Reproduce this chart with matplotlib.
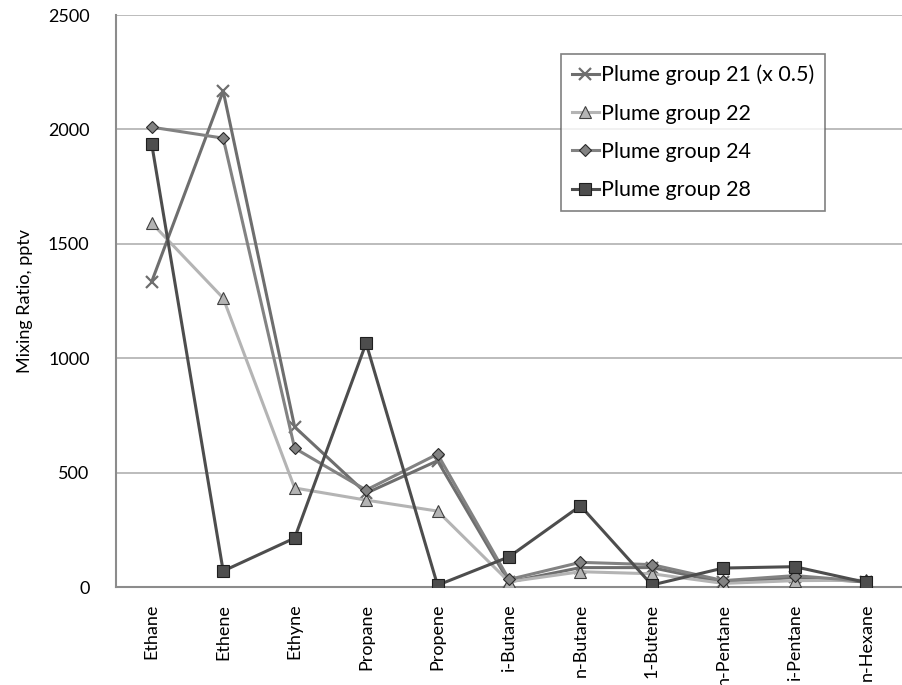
import matplotlib
matplotlib.use('Agg')
import matplotlib.pyplot as plt
import numpy as np

compounds = ['Ethane', 'Ethene', 'Ethyne', 'Propane', 'Propene', 'i-Butane',
             'n-Butane', '1-Butene', 'n-Pentane', 'i-Pentane', 'n-Hexane']

# mixing ratios (pptv); group 21 already scaled by 0.5
group21 = [1335, 2168, 700, 410, 552, 22, 85, 85, 20, 42, 22]
group22 = [1591, 1263, 433, 380, 332, 23, 67, 58, 16, 28, 30]
group24 = [2010, 1962, 607, 424, 581, 33, 108, 98, 28, 50, 25]
group28 = [1936, 70, 214, 1066, 8, 132, 355, 9, 83, 89, 20]

yticks = [0, 500, 1000, 1500, 2000, 2500]

plt.rcParams['font.family'] = ['Lato', 'DejaVu Sans']

fig = plt.figure(figsize=(9.02, 6.85), dpi=100)
ax = fig.add_axes([0.1286, 0.143, 0.8714, 0.835])

x = np.arange(len(compounds))

ax.plot(x, group21, color='#6e6e6e', lw=2.2, marker='x', ms=8, mew=1.6,
        mec='#6e6e6e', label='Plume group 21 (x 0.5)', zorder=3)
ax.plot(x, group22, color='#b4b4b4', lw=2.2, marker='^', ms=8,
        mfc='#b4b4b4', mec='#404040', mew=0.8, label='Plume group 22', zorder=3)
ax.plot(x, group24, color='#828282', lw=2.2, marker='D', ms=6.5,
        mfc='#828282', mec='#2a2a2a', mew=0.8, label='Plume group 24', zorder=4)
ax.plot(x, group28, color='#4d4d4d', lw=2.2, marker='s', ms=8,
        mfc='#4d4d4d', mec='#1e1e1e', mew=0.8, label='Plume group 28', zorder=5)

ax.set_xlim(-0.5, len(compounds) - 0.5)
ax.set_ylim(0, 2500)
ax.set_yticks(yticks)
ax.set_yticklabels([str(v) for v in yticks], fontsize=13)
ax.set_xticks(x)
ax.set_xticklabels(compounds, rotation=90, fontsize=13)
ax.tick_params(length=0)
ax.tick_params(axis='x', pad=12)
ax.tick_params(axis='y', pad=19)

ax.grid(axis='y', color='#b0b0b0', lw=1.2)
ax.set_axisbelow(True)
for side in ['top', 'right']:
    ax.spines[side].set_visible(False)
for side in ['left', 'bottom']:
    ax.spines[side].set_color('#8c8c8c')
    ax.spines[side].set_linewidth(1.5)

ax.set_ylabel('Mixing Ratio, pptv', fontsize=13, labelpad=11)

leg = ax.legend(loc='upper left', bbox_to_anchor=(0.566, 0.932), fontsize=15.5,
                frameon=True, fancybox=False, handlelength=1.25, handletextpad=0.1,
                labelspacing=0.85, borderpad=0.5, borderaxespad=0)
leg.get_frame().set_edgecolor('#606060')
leg.get_frame().set_linewidth(1.2)

fig.savefig('out.png', dpi=100)
